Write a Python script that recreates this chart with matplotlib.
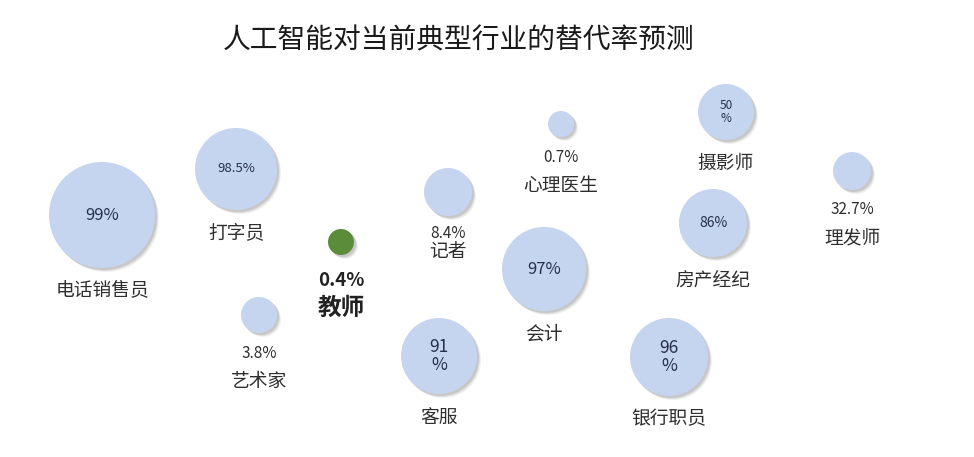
import matplotlib
matplotlib.use("Agg")
import matplotlib.pyplot as plt
from matplotlib.patches import Circle

plt.rcParams['font.family'] = ['Noto Sans CJK SC', 'DejaVu Sans']

title = "人工智能对当前典型行业的替代率预测"
jobs = ["电话销售员", "打字员", "教师", "艺术家", "记者", "心理医生",
        "会计", "客服", "摄影师", "房产经纪", "理发师", "银行职员"]
rate_labels = ["99%", "98.5%", "0.4%", "3.8%", "8.4%", "0.7%",
               "97%", "91\n%", "50\n%", "86%", "32.7%", "96\n%"]
rates = [99, 98.5, 0.4, 3.8, 8.4, 0.7, 97, 91, 50, 86, 32.7, 96]
# bubble layout coordinates (chart units)
x_pos = [102, 236, 341, 259, 448, 561, 544, 439, 726, 713, 852, 669]
y_pos = [215, 169, 242, 315, 192, 124, 269, 356, 112, 223, 171, 357]
bubble_size = [53, 41, 13, 18, 24, 13, 42, 38, 28, 34, 19, 39]

W, H = 974, 457
fig = plt.figure(figsize=(W / 100, H / 100), dpi=100)
ax = fig.add_axes([0, 0, 1, 1])
ax.set_xlim(0, W)
ax.set_ylim(H, 0)
ax.axis('off')

blue = '#c6d5ef'
green = '#5b8c3a'
label_col = '#2e2e2e'
inner_col = '#26304a'

ax.text(459, 40, title, ha='center', va='center', fontsize=20, color='#1a1a1a')

inner_fs = {"99%": 12, "98.5%": 9.5, "97%": 12, "91\n%": 12.5, "50\n%": 8.5,
            "86%": 10, "96\n%": 12.5}

for i, job in enumerate(jobs):
    x, y, r = x_pos[i], y_pos[i], bubble_size[i]
    col = green if job == "教师" else blue
    # soft shadow
    for k, a in [(4, 0.10), (3, 0.16), (2, 0.22)]:
        ax.add_patch(Circle((x + k, y + k), r, facecolor='#7a7a7a', edgecolor='none', alpha=a, zorder=1))
    ax.add_patch(Circle((x, y), r, facecolor=col, edgecolor='none', zorder=2))

    lab = rate_labels[i]
    if lab in inner_fs:
        ax.text(x, y, lab, ha='center', va='center', fontsize=inner_fs[lab],
                color=inner_col, linespacing=1.0, zorder=3)
        ax.text(x, y + r + 23, job, ha='center', va='center', fontsize=13.5,
                color=label_col, zorder=3)
    elif job == "教师":
        ax.text(x, y + 39, lab, ha='center', va='center', fontsize=13.5,
                fontweight='bold', color='#222222', zorder=3)
        ax.text(x, y + 66, job, ha='center', va='center', fontsize=17,
                fontweight='bold', color='#222222', zorder=3)
    elif job == "记者":
        ax.text(x, y + 41, lab, ha='center', va='center', fontsize=11,
                color=label_col, zorder=3)
        ax.text(x, y + 60, job, ha='center', va='center', fontsize=13.5,
                color=label_col, zorder=3)
    else:
        ax.text(x, y + r + 20, lab, ha='center', va='center', fontsize=11,
                color=label_col, zorder=3)
        ax.text(x, y + r + 48, job, ha='center', va='center', fontsize=13.5,
                color=label_col, zorder=3)

fig.savefig("out.png", dpi=100, facecolor='white')
